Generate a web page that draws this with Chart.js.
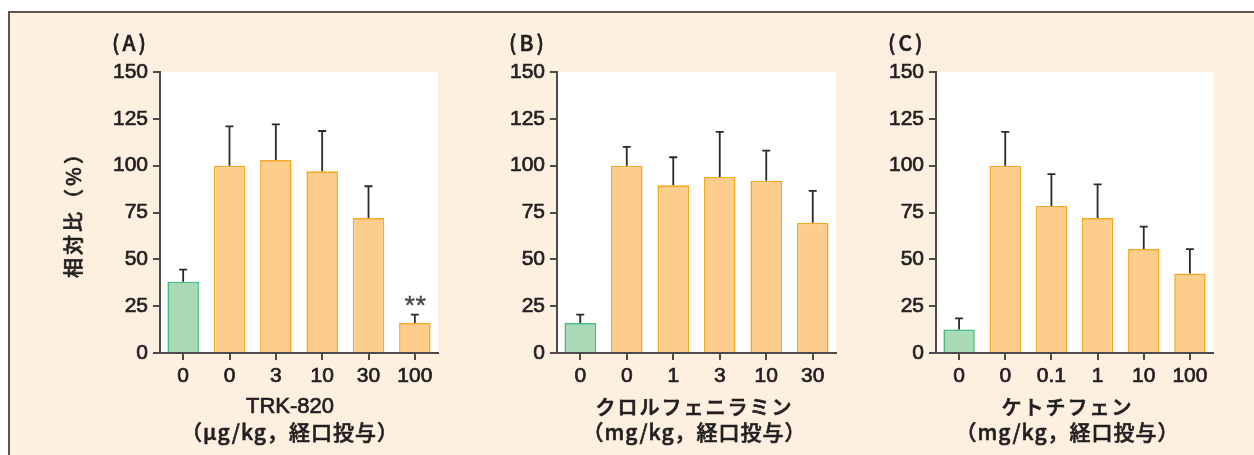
<!DOCTYPE html>
<html>
<head>
<meta charset="utf-8">
<script src="https://cdn.jsdelivr.net/npm/chart.js@4"></script>
<style>
  html, body { margin: 0; padding: 0; background: #fff; }
  body { width: 1254px; height: 455px; position: relative; overflow: hidden; }
  #frame { position: absolute; left: 8px; top: 11px; right: -10px; bottom: -10px;
           background: #fef0e1; border-top: 2px solid #5b5654; border-left: 2px solid #5b5654; }
  canvas { position: absolute; top: 20px; }
</style>
</head>
<body>
<div id="frame"></div>
<canvas id="chartA" width="430" height="430" style="left:20px"></canvas>
<canvas id="chartB" width="388" height="430" style="left:460px"></canvas>
<canvas id="chartC" width="365" height="430" style="left:860px"></canvas>
<script>
// (A) TRK-820
const labelsA = ['0', '0', '3', '10', '30', '100'];
const meansA = [38, 100, 103, 97, 72, 16];
const sdA = [6.5, 21, 19, 21.5, 17, 4.5];

// (B) クロルフェニラミン
const labelsB = ['0', '0', '1', '3', '10', '30'];
const meansB = [16, 100, 89.5, 94, 92, 69.5];
const sdB = [4.5, 10, 15, 24, 16, 17];

// (C) ケトチフェン
const labelsC = ['0', '0', '0.1', '1', '10', '100'];
const meansC = [12.5, 100, 78.5, 72, 55.5, 42.5];
const sdC = [6, 18, 17, 18, 12, 13];

const yTicks = [0, 25, 50, 75, 100, 125, 150];

const numFont = '"Liberation Sans", Arial, sans-serif';
const jpFont = '"Noto Sans CJK JP", sans-serif';
const ink = '#231f20';
const axisCol = '#4f4b4a';
const greenFill = '#a9d9b7', greenLine = '#46bb7d';
const orangeFill = '#fdcd8b', orangeLine = '#f6a724';

const plotBg = {
  id: 'plotBg',
  beforeDraw(chart) {
    const a = chart.chartArea, c = chart.ctx;
    c.save();
    c.fillStyle = '#ffffff';
    c.fillRect(a.left, a.top, a.right - a.left, a.bottom - a.top);
    c.restore();
  }
};

// fill + thin stroke, the print type is a bit heavier than plain regular
function boldText(c, str, x, y, w) {
  c.fillText(str, x, y);
  c.lineWidth = w;
  c.strokeStyle = c.fillStyle;
  c.strokeText(str, x, y);
}

const errBars = {
  id: 'errBars',
  afterDatasetsDraw(chart, args, opts) {
    const c = chart.ctx, ys = chart.scales.y;
    const meta = chart.getDatasetMeta(0);
    const means = chart.data.datasets[0].data;
    c.save();
    meta.data.forEach((bar, i) => {
      const top = ys.getPixelForValue(means[i] + opts.sd[i]);
      c.strokeStyle = '#2b2b2b';
      c.lineWidth = 1.8;
      c.beginPath();
      c.moveTo(bar.x, bar.y);
      c.lineTo(bar.x, top);
      c.moveTo(bar.x - 4, top);
      c.lineTo(bar.x + 4, top);
      c.stroke();
      if (opts.marks && opts.marks[i]) {
        c.fillStyle = '#4a4a4a';
        c.font = '26px ' + numFont;
        c.textAlign = 'center';
        c.textBaseline = 'middle';
        c.letterSpacing = '1px';
        boldText(c, opts.marks[i], bar.x + 1, top - 8, 0.5);
      }
    });
    c.restore();
  }
};

const texts = {
  id: 'texts',
  afterDraw(chart, args, opts) {
    const a = chart.chartArea, c = chart.ctx;
    c.save();
    c.fillStyle = ink;
    c.textBaseline = 'middle';
    c.textAlign = 'left';
    c.font = '500 21px ' + jpFont;
    c.letterSpacing = '3px';
    boldText(c, opts.letter, a.left - 48, 23, 0.6);
    const cx = (a.left + a.right) / 2 + opts.dx;
    c.textAlign = 'center';
    if (opts.line1Jp) {
      c.font = '500 20px ' + jpFont;
      c.letterSpacing = '2px';
    } else {
      c.font = '22px ' + numFont;
      c.letterSpacing = '0px';
    }
    boldText(c, opts.line1, cx, a.bottom + 54, 0.7);
    c.letterSpacing = '1px';
    c.font = '500 21px ' + jpFont;
    boldText(c, opts.line2, cx, a.bottom + 79, 0.6);
    if (opts.yTitle) {
      c.letterSpacing = '3px';
      c.font = '500 20px ' + jpFont;
      c.translate(a.left - 87, (a.top + a.bottom) / 2);
      c.rotate(-Math.PI / 2);
      boldText(c, opts.yTitle, 3, 0, 0.6);
    }
    c.restore();
  }
};

function makePanel(id, labels, means, sd, axisW, textOpts, marks) {
  const colors = labels.map((l, i) => i === 0 ? greenFill : orangeFill);
  const lines = labels.map((l, i) => i === 0 ? greenLine : orangeLine);
  const tickFont = { family: numFont, size: 21 };
  return new Chart(document.getElementById(id), {
    type: 'bar',
    data: {
      labels: labels,
      datasets: [{
        data: means,
        backgroundColor: colors,
        borderColor: lines,
        borderWidth: 1.6,
        barPercentage: 0.68,
        categoryPercentage: 1
      }]
    },
    options: {
      responsive: false,
      devicePixelRatio: 1,
      animation: false,
      layout: { padding: { top: 52, right: 12, left: 0, bottom: 0 } },
      plugins: {
        legend: { display: false },
        tooltip: { enabled: false },
        errBars: { sd: sd, marks: marks },
        texts: textOpts
      },
      scales: {
        x: {
          offset: true,
          grid: { offset: false, drawOnChartArea: false, drawTicks: true, tickLength: 7, color: axisCol, lineWidth: 2 },
          border: { display: true, color: axisCol, width: 2 },
          ticks: { color: ink, font: tickFont, padding: 4, maxRotation: 0, autoSkip: false,
                   textStrokeColor: ink, textStrokeWidth: 0.7 },
          afterFit(s) { s.height = 97; }
        },
        y: {
          min: 0,
          max: 150,
          afterBuildTicks(s) { s.ticks = yTicks.map(v => ({ value: v })); },
          grid: { drawOnChartArea: false, drawTicks: true, tickLength: 7, color: axisCol, lineWidth: 2 },
          border: { display: true, color: axisCol, width: 2 },
          ticks: { color: ink, font: tickFont, padding: 5, textStrokeColor: ink, textStrokeWidth: 0.7 },
          afterFit(s) { s.width = axisW; }
        }
      }
    },
    plugins: [plotBg, errBars, texts]
  });
}

makePanel('chartA', labelsA, meansA, sdA, 140,
  { letter: '(A)', line1: 'TRK-820', line1Jp: false, line2: '（μg/kg，経口投与）', dx: -9, yTitle: '相対比（%）' },
  ['', '', '', '', '', '**']);
makePanel('chartB', labelsB, meansB, sdB, 97,
  { letter: '(B)', line1: 'クロルフェニラミン', line1Jp: true, line2: '（mg/kg，経口投与）', dx: -2 }, null);
makePanel('chartC', labelsC, meansC, sdC, 76,
  { letter: '(C)', line1: 'ケトチフェン', line1Jp: true, line2: '（mg/kg，経口投与）', dx: -7 }, null);
</script>
</body>
</html>
